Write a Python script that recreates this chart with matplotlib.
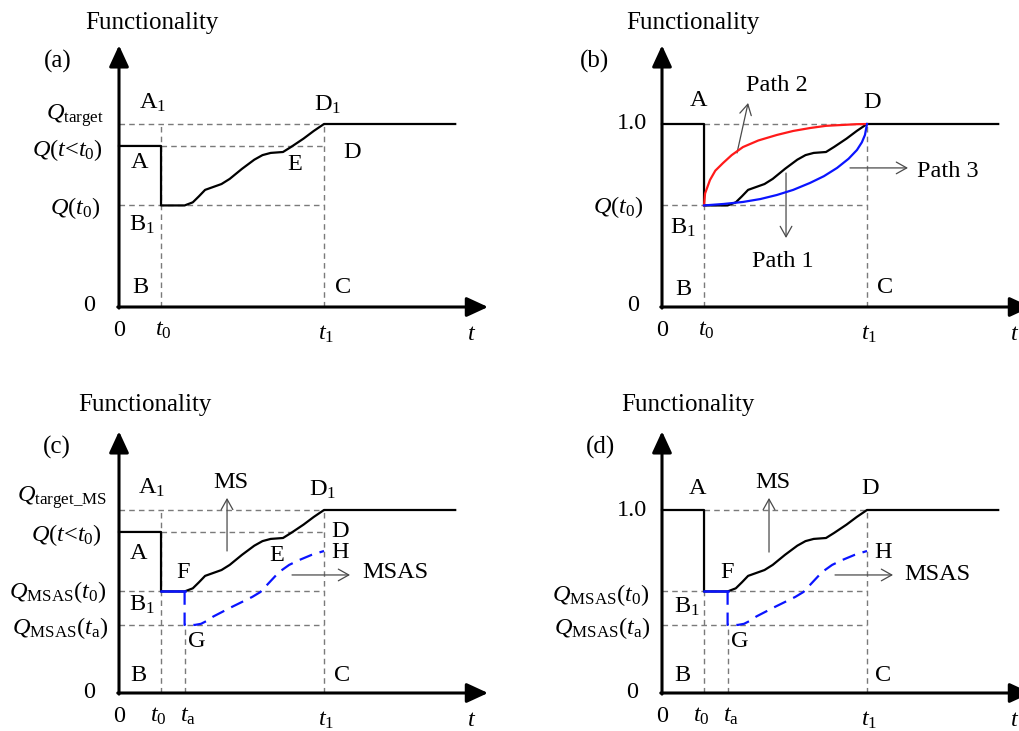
import matplotlib
matplotlib.use("Agg")
import matplotlib.pyplot as plt

plt.rcParams['font.family'] = 'Liberation Serif'
plt.rcParams['mathtext.fontset'] = 'custom'
plt.rcParams['mathtext.rm'] = 'Liberation Serif'
plt.rcParams['mathtext.it'] = 'Liberation Serif:italic'

# time marks (t1 = 1) and functionality levels (Q target = 1)
t0 = 0.205
ta = 0.32
t1 = 1.0
t_end = 1.64
q_full = 1.0
q_pre = 0.88
q_t0 = 0.555
q_ta = 0.372

# recovery curve (path 1 / MS), same shape in every panel
rec_t = [0.32, 0.36, 0.39, 0.42, 0.45, 0.50, 0.54, 0.60, 0.66, 0.70, 0.74, 0.80, 0.84, 0.90, 0.95, 1.0]
rec_q = [0.555, 0.572, 0.605, 0.640, 0.652, 0.672, 0.700, 0.755, 0.805, 0.830, 0.842, 0.847, 0.875, 0.920, 0.962, 1.0]

# path 2 (red) and path 3 (blue) in panel (b)
path2_t = [0.205, 0.21, 0.234, 0.26, 0.298, 0.34, 0.395, 0.47, 0.56, 0.64, 0.722, 0.80, 0.883, 0.95, 1.0]
path2_q = [0.555, 0.62, 0.694, 0.745, 0.787, 0.83, 0.874, 0.91, 0.94, 0.962, 0.978, 0.99, 0.995, 0.999, 1.0]
path3_t = [0.205, 0.30, 0.395, 0.48, 0.56, 0.64, 0.722, 0.79, 0.854, 0.91, 0.951, 0.975, 0.99, 1.0]
path3_q = [0.555, 0.563, 0.574, 0.59, 0.612, 0.64, 0.678, 0.715, 0.76, 0.81, 0.858, 0.90, 0.94, 1.0]

# MSAS curve (blue dashed) in panels (c) and (d)
msas_t = [0.32, 0.32, 0.37, 0.40, 0.43, 0.46, 0.55, 0.65, 0.69, 0.73, 0.78, 0.83, 0.88, 0.94, 1.0]
msas_q = [0.555, 0.372, 0.372, 0.378, 0.395, 0.418, 0.47, 0.525, 0.552, 0.60, 0.66, 0.70, 0.727, 0.755, 0.776]

W, H = 1020, 731
SX, SY = 205.0, 183.0
FS = 17.5
GRAY = '#7a7a7a'
BLUE = '#0a14ff'
RED = '#ff1a1a'

fig = plt.figure(figsize=(W / 100, H / 100), dpi=100)


def make_panel(ox, oy):
    L, R = ox - 119, min(ox + 381, W)
    T, B = oy - 300, min(oy + 40, H)
    ax = fig.add_axes([L / W, 1 - B / H, (R - L) / W, (B - T) / H])
    ax.set_xlim((L - ox) / SX, (R - ox) / SX)
    ax.set_ylim((oy - B) / SY, (oy - T) / SY)
    ax.axis('off')
    # axes with filled arrow heads
    head = dict(arrowstyle='-|>,head_length=1.3,head_width=0.6', lw=2.2, color='k',
                mutation_scale=10, shrinkA=0, shrinkB=0)
    ax.annotate('', xy=(0, 1.43), xytext=(0, -0.006), arrowprops=head, annotation_clip=False)
    ax.annotate('', xy=(1.80, 0), xytext=(-0.006, 0), arrowprops=head, annotation_clip=False)
    return ax


def dash(ax, x, y):
    ax.plot(x, y, color=GRAY, lw=1.0, ls=(0, (4, 3)), zorder=1)


def label(ax, x, y, s, ha='center', size=FS):
    ax.text(x, y, s, ha=ha, va='center', fontsize=size, clip_on=False)


def pointer(ax, x0, y0, x1, y1):
    ax.annotate('', xy=(x1, y1), xytext=(x0, y0), annotation_clip=False,
                arrowprops=dict(arrowstyle='->,head_length=0.5,head_width=0.28', lw=0.9,
                                color='#4a4a4a', mutation_scale=15, shrinkA=0, shrinkB=0))


def time_ticks(ax, with_ta):
    label(ax, 0, -0.13, '0')
    label(ax, t0 + 0.01 if not with_ta else t0 - 0.015, -0.13, r'$t_0$')
    if with_ta:
        label(ax, ta + 0.015, -0.13, r'$t_{\mathrm{a}}$')
    label(ax, t1 + 0.01, -0.15, r'$t_1$')
    label(ax, 1.722, -0.15, r'$t$')


# ---------- (a) ----------
ax = make_panel(119, 307)
dash(ax, [0, t1], [q_full, q_full])
dash(ax, [t0, t1], [q_pre, q_pre])
dash(ax, [0, t1], [q_t0, q_t0])
dash(ax, [t0, t0], [0, q_full])
dash(ax, [t1, t1], [0, q_full])
ax.plot([0, t0, t0, ta] + rec_t + [t_end], [q_pre, q_pre, q_t0, q_t0] + rec_q + [q_full],
        color='k', lw=1.6, zorder=3)
label(ax, 0.161, 1.55, 'Functionality', size=18)
label(ax, -0.298, 1.34, '(a)', size=18)
label(ax, 0.166, 1.115, r'A$_1$')
label(ax, 1.02, 1.104, r'D$_1$')
label(ax, 0.102, 0.792, 'A')
label(ax, 0.859, 0.776, 'E')
label(ax, 1.137, 0.842, 'D')
label(ax, 0.112, 0.448, r'B$_1$')
label(ax, 0.102, 0.104, 'B')
label(ax, 1.093, 0.109, 'C')
label(ax, -0.075, 1.045, r'$Q_{\mathrm{target}}$', ha='right')
label(ax, -0.08, 0.858, r'$Q$($t$<$t_0$)', ha='right')
label(ax, -0.09, 0.541, r'$Q$($t_0$)', ha='right')
label(ax, -0.146, 0.01, '0')
time_ticks(ax, False)

# ---------- (b) ----------
ax = make_panel(662, 307)
dash(ax, [t0, t1], [q_full, q_full])
dash(ax, [0, t1], [q_t0, q_t0])
dash(ax, [t0, t0], [0, q_t0])
dash(ax, [t1, t1], [0, q_full])
ax.plot([0, t0, t0, ta] + rec_t + [t_end], [q_full, q_full, q_t0, q_t0] + rec_q + [q_full],
        color='k', lw=1.6, zorder=3)
ax.plot(path2_t, path2_q, color=RED, lw=1.6, zorder=4)
ax.plot(path3_t, path3_q, color=BLUE, lw=1.6, zorder=4)
pointer(ax, 0.366, 0.842, 0.42, 1.115)
pointer(ax, 0.917, 0.760, 1.200, 0.760)
pointer(ax, 0.605, 0.732, 0.605, 0.377)
label(ax, 0.151, 1.55, 'Functionality', size=18)
label(ax, -0.327, 1.34, '(b)', size=18)
label(ax, 0.176, 1.131, 'A')
label(ax, 1.024, 1.12, 'D')
label(ax, 0.561, 1.213, 'Path 2')
label(ax, 1.395, 0.738, 'Path 3')
label(ax, 0.590, 0.246, 'Path 1')
label(ax, 0.102, 0.432, r'B$_1$')
label(ax, 0.102, 0.093, 'B')
label(ax, 1.088, 0.109, 'C')
label(ax, -0.073, 1.005, '1.0', ha='right')
label(ax, -0.093, 0.546, r'$Q$($t_0$)', ha='right')
label(ax, -0.141, 0.01, '0')
time_ticks(ax, False)

# ---------- (c) ----------
ax = make_panel(119, 693)
dash(ax, [0, t1], [q_full, q_full])
dash(ax, [t0, t1], [q_pre, q_pre])
dash(ax, [0, t1], [q_t0, q_t0])
dash(ax, [0, t1], [q_ta, q_ta])
dash(ax, [t0, t0], [0, q_full])
dash(ax, [ta, ta], [0, q_ta])
dash(ax, [t1, t1], [0, q_full])
ax.plot([0, t0, t0, ta] + rec_t + [t_end], [q_pre, q_pre, q_t0, q_t0] + rec_q + [q_full],
        color='k', lw=1.6, zorder=3)
ax.plot([t0, ta], [q_t0, q_t0], color=BLUE, lw=1.8, zorder=4)
ax.plot(msas_t, msas_q, color=BLUE, lw=1.6, ls=(0, (6, 3.5)), zorder=4)
pointer(ax, 0.527, 0.776, 0.527, 1.066)
pointer(ax, 0.844, 0.645, 1.127, 0.645)
label(ax, 0.127, 1.574, 'Functionality', size=18)
label(ax, -0.302, 1.34, '(c)', size=18)
label(ax, 0.161, 1.12, r'A$_1$')
label(ax, 0.546, 1.153, 'MS')
label(ax, 0.995, 1.109, r'D$_1$')
label(ax, 1.078, 0.88, 'D')
label(ax, 0.093, 0.765, 'A')
label(ax, 0.771, 0.754, 'E')
label(ax, 1.078, 0.77, 'H')
label(ax, 0.312, 0.661, 'F')
label(ax, 1.346, 0.656, 'MSAS')
label(ax, 0.112, 0.481, r'B$_1$')
label(ax, 0.380, 0.279, 'G')
label(ax, 0.093, 0.098, 'B')
label(ax, 1.088, 0.098, 'C')
label(ax, -0.059, 1.07, r'$Q_{\mathrm{target\_MS}}$', ha='right')
label(ax, -0.085, 0.863, r'$Q$($t$<$t_0$)', ha='right')
label(ax, -0.063, 0.552, r'$Q_{\mathrm{MSAS}}$($t_0$)', ha='right')
label(ax, -0.054, 0.355, r'$Q_{\mathrm{MSAS}}$($t_{\mathrm{a}}$)', ha='right')
label(ax, -0.146, 0.0, '0')
time_ticks(ax, True)

# ---------- (d) ----------
ax = make_panel(662, 693)
dash(ax, [t0, t1], [q_full, q_full])
dash(ax, [0, t1], [q_t0, q_t0])
dash(ax, [0, t1], [q_ta, q_ta])
dash(ax, [t0, t0], [0, q_t0])
dash(ax, [ta, ta], [0, q_ta])
dash(ax, [t1, t1], [0, q_full])
ax.plot([0, t0, t0, ta] + rec_t + [t_end], [q_full, q_full, q_t0, q_t0] + rec_q + [q_full],
        color='k', lw=1.6, zorder=3)
ax.plot([t0, ta], [q_t0, q_t0], color=BLUE, lw=1.8, zorder=4)
ax.plot(msas_t, msas_q, color=BLUE, lw=1.6, ls=(0, (6, 3.5)), zorder=4)
pointer(ax, 0.522, 0.77, 0.522, 1.066)
pointer(ax, 0.844, 0.645, 1.127, 0.645)
label(ax, 0.127, 1.574, 'Functionality', size=18)
label(ax, -0.302, 1.34, '(d)', size=18)
label(ax, 0.171, 1.12, 'A')
label(ax, 0.541, 1.153, 'MS')
label(ax, 1.015, 1.12, 'D')
label(ax, 1.078, 0.77, 'H')
label(ax, 0.317, 0.661, 'F')
label(ax, 1.341, 0.645, 'MSAS')
label(ax, 0.122, 0.47, r'B$_1$')
label(ax, 0.380, 0.279, 'G')
label(ax, 0.098, 0.098, 'B')
label(ax, 1.078, 0.098, 'C')
label(ax, -0.073, 1.0, '1.0', ha='right')
label(ax, -0.063, 0.536, r'$Q_{\mathrm{MSAS}}$($t_0$)', ha='right')
label(ax, -0.059, 0.355, r'$Q_{\mathrm{MSAS}}$($t_{\mathrm{a}}$)', ha='right')
label(ax, -0.146, 0.0, '0')
time_ticks(ax, True)

fig.savefig('out.png', dpi=100)
